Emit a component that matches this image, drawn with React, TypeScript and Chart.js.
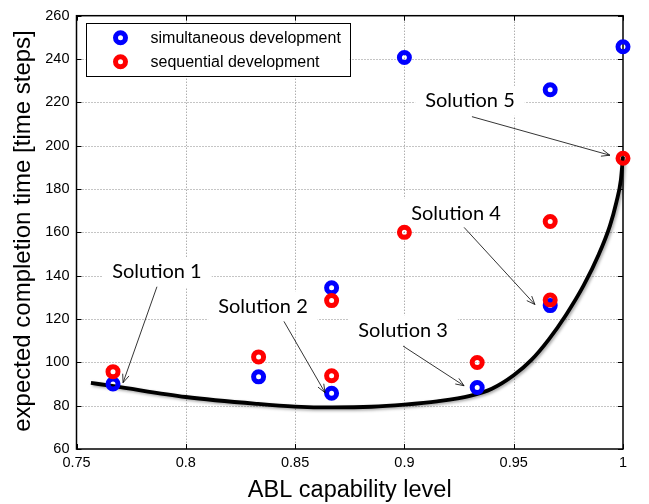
import React, { useEffect, useRef } from 'react';
import { Chart, registerables } from 'chart.js';

Chart.register(...registerables);

// ---- data ----
const xTicks = [0.75, 0.8, 0.85, 0.9, 0.95, 1];
const xTickLabels = ['0.75', '0.8', '0.85', '0.9', '0.95', '1'];
const yTicks = [60, 80, 100, 120, 140, 160, 180, 200, 220, 240, 260];
const yTickLabels = ['60', '80', '100', '120', '140', '160', '180', '200', '220', '240', '260'];

const simX = [0.7667, 0.8333, 0.8667, 0.8667, 0.9, 0.9333, 0.9667, 0.9667, 1.0];
const simY = [90, 93.3, 134.4, 85.7, 240.7, 88.4, 225.8, 126.2, 245.7];
const seqX = [0.7667, 0.8333, 0.8667, 0.8667, 0.9, 0.9333, 0.9667, 0.9667, 1.0];
const seqY = [95.7, 102.5, 128.5, 93.8, 160, 99.9, 165, 128.8, 194.2];

const curveX = [0.7566, 0.767, 0.8, 0.833, 0.85, 0.867, 0.885, 0.9, 0.915, 0.93, 0.94, 0.95, 0.958, 0.966, 0.974, 0.982, 0.989, 0.994, 0.997, 0.999, 1.0];
const curveY = [90.5, 89, 84, 80.8, 79.6, 79.2, 79.5, 80.5, 82, 84.5, 87.8, 94, 101, 110.5, 122, 135.5, 150, 163, 174, 184, 195];

const annoText = ['Solution 1', 'Solution 2', 'Solution 3', 'Solution 4', 'Solution 5'];
const annoX = [0.7868, 0.8353, 0.8994, 0.9236, 0.93];
const annoY = [141.7, 125.8, 114.8, 168.7, 220.7];
const arrowFromX = [0.7868, 0.8449, 0.8994, 0.9273, 0.9309];
const arrowFromY = [134.9, 118.9, 107.5, 162.3, 213.4];
const arrowToX = [0.7713, 0.8637, 0.9273, 0.9597, 0.994];
const arrowToY = [90.6, 86.0, 89.2, 126.7, 195.6];

const legendLabels = ['simultaneous development', 'sequential development'];
const seriesColors = ['#0000ff', '#ff0000'];

const yTitle = 'expected completion time [time steps]';
const xTitle = 'ABL capability level';

const AXIS_FONT = '"Liberation Sans", Arial, sans-serif';
const ANNO_FONT = 'Lato, "Open Sans", sans-serif';

const matlabPlugin = {
  id: 'matlabLook',
  beforeDatasetsDraw(chart: any) {
    const { ctx, chartArea: a, scales } = chart;
    const x = scales.x, y = scales.y;
    ctx.save();
    // dotted grid
    ctx.strokeStyle = '#8a8a8a';
    ctx.lineWidth = 1;
    ctx.setLineDash([1, 2]);
    xTicks.forEach((v) => {
      const px = Math.round(x.getPixelForValue(v)) + 0.5;
      if (px <= a.left + 1 || px >= a.right - 1) return;
      ctx.beginPath(); ctx.moveTo(px, a.top); ctx.lineTo(px, a.bottom); ctx.stroke();
    });
    yTicks.forEach((v) => {
      const py = Math.round(y.getPixelForValue(v)) + 0.5;
      if (py <= a.top + 1 || py >= a.bottom - 1) return;
      ctx.beginPath(); ctx.moveTo(a.left, py); ctx.lineTo(a.right, py); ctx.stroke();
    });
    ctx.setLineDash([]);
    // box
    ctx.strokeStyle = '#000';
    ctx.lineWidth = 1.5;
    ctx.strokeRect(a.left, a.top, a.right - a.left, a.bottom - a.top);
    // inner ticks
    ctx.lineWidth = 1;
    const tl = 5;
    xTicks.forEach((v) => {
      const px = Math.round(x.getPixelForValue(v)) + 0.5;
      ctx.beginPath();
      ctx.moveTo(px, a.bottom); ctx.lineTo(px, a.bottom - tl);
      ctx.moveTo(px, a.top); ctx.lineTo(px, a.top + tl);
      ctx.stroke();
    });
    yTicks.forEach((v) => {
      const py = Math.round(y.getPixelForValue(v)) + 0.5;
      ctx.beginPath();
      ctx.moveTo(a.left, py); ctx.lineTo(a.left + tl, py);
      ctx.moveTo(a.right, py); ctx.lineTo(a.right - tl, py);
      ctx.stroke();
    });
    // annotation text boxes
    ctx.font = `20px ${ANNO_FONT}`;
    ctx.textAlign = 'center';
    ctx.textBaseline = 'middle';
    annoText.forEach((t, i) => {
      const cx = x.getPixelForValue(annoX[i]);
      const cy = y.getPixelForValue(annoY[i]);
      const w = ctx.measureText(t).width + 20;
      ctx.fillStyle = '#fff';
      ctx.fillRect(cx - w / 2, cy - 15, w, 30);
      ctx.fillStyle = '#000';
      ctx.fillText(t, cx, cy);
    });
    ctx.restore();
  },
  beforeDatasetDraw(chart: any, args: any) {
    if (args.index === 2) {
      const ctx = chart.ctx;
      ctx.save();
      ctx.shadowColor = 'rgba(0,0,0,0.35)';
      ctx.shadowBlur = 3;
      ctx.shadowOffsetX = 1.5;
      ctx.shadowOffsetY = 1.5;
    }
  },
  afterDatasetDraw(chart: any, args: any) {
    if (args.index === 2) chart.ctx.restore();
  },
  afterDatasetsDraw(chart: any) {
    const { ctx, chartArea: a, scales } = chart;
    const x = scales.x, y = scales.y;
    ctx.save();
    // arrows
    ctx.strokeStyle = '#000';
    ctx.lineWidth = 0.8;
    annoText.forEach((_, i) => {
      const x1 = x.getPixelForValue(arrowFromX[i]);
      const y1 = y.getPixelForValue(arrowFromY[i]);
      const x2 = x.getPixelForValue(arrowToX[i]);
      const y2 = y.getPixelForValue(arrowToY[i]);
      const ang = Math.atan2(y2 - y1, x2 - x1);
      const hl = 9, ha = 0.38;
      ctx.beginPath();
      ctx.moveTo(x1, y1); ctx.lineTo(x2, y2);
      ctx.moveTo(x2 - hl * Math.cos(ang - ha), y2 - hl * Math.sin(ang - ha));
      ctx.lineTo(x2, y2);
      ctx.lineTo(x2 - hl * Math.cos(ang + ha), y2 - hl * Math.sin(ang + ha));
      ctx.stroke();
    });
    // legend
    const lx = a.left + 9, ly = a.top + 7, lw = 264, lh = 53;
    ctx.fillStyle = '#fff';
    ctx.fillRect(lx, ly, lw, lh);
    ctx.strokeStyle = '#000';
    ctx.lineWidth = 1;
    ctx.strokeRect(Math.round(lx) + 0.5, Math.round(ly) + 0.5, lw, lh);
    ctx.font = `16px ${AXIS_FONT}`;
    ctx.textAlign = 'left';
    ctx.textBaseline = 'middle';
    legendLabels.forEach((t, i) => {
      const my = ly + 15 + i * 24;
      ctx.beginPath();
      ctx.arc(lx + 35, my, 5, 0, Math.PI * 2);
      ctx.strokeStyle = seriesColors[i];
      ctx.lineWidth = 5;
      ctx.stroke();
      ctx.fillStyle = '#000';
      ctx.fillText(t, lx + 65, my + 1);
    });
    // axis titles
    ctx.fillStyle = '#000';
    ctx.font = `23.5px ${AXIS_FONT}`;
    ctx.textAlign = 'center';
    ctx.textBaseline = 'alphabetic';
    ctx.fillText(xTitle, (a.left + a.right) / 2, 497);
    ctx.save();
    ctx.font = `24px ${AXIS_FONT}`;
    ctx.textBaseline = 'middle';
    ctx.translate(23, 231);
    ctx.rotate(-Math.PI / 2);
    ctx.fillText(yTitle, 0, 0);
    ctx.restore();
    ctx.restore();
  },
};

export default function App() {
  const ref = useRef<HTMLCanvasElement | null>(null);
  useEffect(() => {
    if (!ref.current) return;
    const pts = (xs: number[], ys: number[]) => xs.map((v, i) => ({ x: v, y: ys[i] }));
    const chart = new Chart(ref.current, {
      type: 'scatter',
      data: {
        datasets: [
          {
            label: legendLabels[1],
            data: pts(seqX, seqY),
            pointRadius: 5,
            pointBorderWidth: 5,
            pointBorderColor: seriesColors[1],
            pointBackgroundColor: 'rgba(0,0,0,0)',
            borderColor: seriesColors[1],
            clip: false as any,
            order: 0,
          },
          {
            label: legendLabels[0],
            data: pts(simX, simY),
            pointRadius: 5,
            pointBorderWidth: 5,
            pointBorderColor: seriesColors[0],
            pointBackgroundColor: 'rgba(0,0,0,0)',
            borderColor: seriesColors[0],
            clip: false as any,
            order: 1,
          },
          {
            label: 'curve',
            data: pts(curveX, curveY),
            showLine: true,
            pointRadius: 0,
            borderColor: '#000',
            borderWidth: 3.8,
            cubicInterpolationMode: 'monotone',
            clip: false as any,
            order: 2,
          } as any,
        ],
      },
      options: {
        responsive: false,
        animation: false,
        devicePixelRatio: 1,
        layout: { padding: { top: 12, right: 26, left: 0, bottom: 0 } },
        plugins: { legend: { display: false }, tooltip: { enabled: false } },
        scales: {
          x: {
            type: 'linear',
            min: 0.75,
            max: 1,
            afterBuildTicks: (s: any) => { s.ticks = xTicks.map((v) => ({ value: v })); },
            afterFit: (s: any) => { s.height = 55; },
            ticks: {
              callback: (_v: any, i: number) => xTickLabels[i],
              color: '#000',
              font: { family: AXIS_FONT, size: 14.5 },
              padding: 5,
              maxRotation: 0,
              autoSkip: false,
            },
            grid: { display: false, drawTicks: false },
            border: { display: false },
          },
          y: {
            type: 'linear',
            min: 60,
            max: 260,
            afterBuildTicks: (s: any) => { s.ticks = yTicks.map((v) => ({ value: v })); },
            afterFit: (s: any) => { s.width = 76.5; },
            ticks: {
              callback: (_v: any, i: number) => yTickLabels[i],
              color: '#000',
              font: { family: AXIS_FONT, size: 14.5 },
              padding: 7,
              autoSkip: false,
            },
            grid: { display: false, drawTicks: false },
            border: { display: false },
          },
        },
      } as any,
      plugins: [matlabPlugin],
    });
    return () => chart.destroy();
  }, []);
  return (
    <div style={{ position: 'absolute', left: 0, top: 0, width: 649, height: 504, background: '#fff' }}>
      <canvas ref={ref} width={649} height={504} style={{ width: 649, height: 504, display: 'block' }} />
    </div>
  );
}
